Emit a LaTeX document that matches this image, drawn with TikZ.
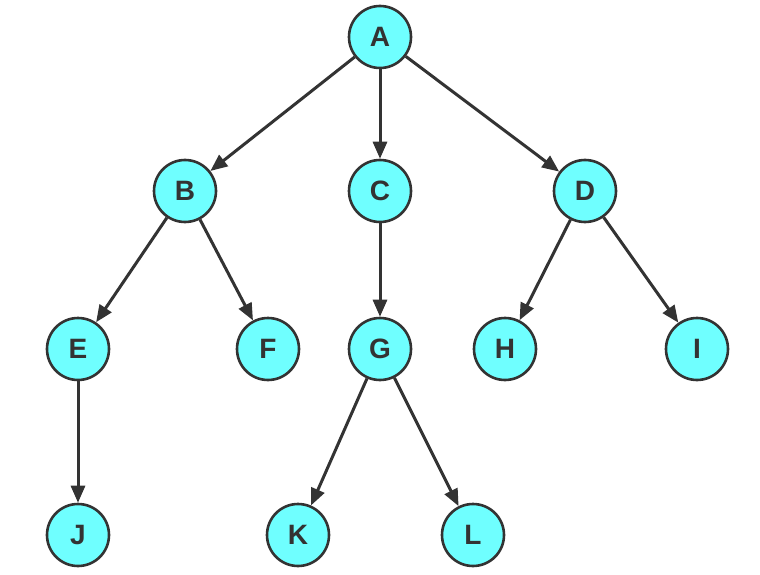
\documentclass[tikz,border=0pt]{standalone}
\usepackage{fontspec}
\setmainfont{Liberation Sans}
\usepackage{xcolor}
\usetikzlibrary{arrows.meta,positioning}
\definecolor{vcyan}{HTML}{6FFFFF}
\definecolor{vgray}{HTML}{333333}
\begin{document}
\begin{tikzpicture}[x=1pt,y=1pt,
every node/.style={circle,draw=vgray,fill=vcyan,line width=2.6pt,minimum size=62pt,inner sep=0pt,font=\fontsize{28}{28}\selectfont\bfseries,text=vgray},
go/.style={-{Triangle[length=17pt,width=14pt]},line width=3pt,draw=vgray}]
\useasboundingbox (0,0) rectangle (760,574);
\node (A) at (380,537) {A};
\node (B) at (185,383) {B};
\node (C) at (380,383) {C};
\node (D) at (585,383) {D};
\node (E) at (78,225) {E};
\node (F) at (268,225) {F};
\node (G) at (380,225) {G};
\node (H) at (505,225) {H};
\node (I) at (697,225) {I};
\node (J) at (78,39) {J};
\node (K) at (298,39) {K};
\node (L) at (473,39) {L};
\draw[go] (A)--(B);\draw[go] (A)--(C);\draw[go] (A)--(D);
\draw[go] (B)--(E);\draw[go] (B)--(F);
\draw[go] (C)--(G);
\draw[go] (D)--(H);\draw[go] (D)--(I);
\draw[go] (E)--(J);
\draw[go] (G)--(K);\draw[go] (G)--(L);
\end{tikzpicture}
\end{document}
